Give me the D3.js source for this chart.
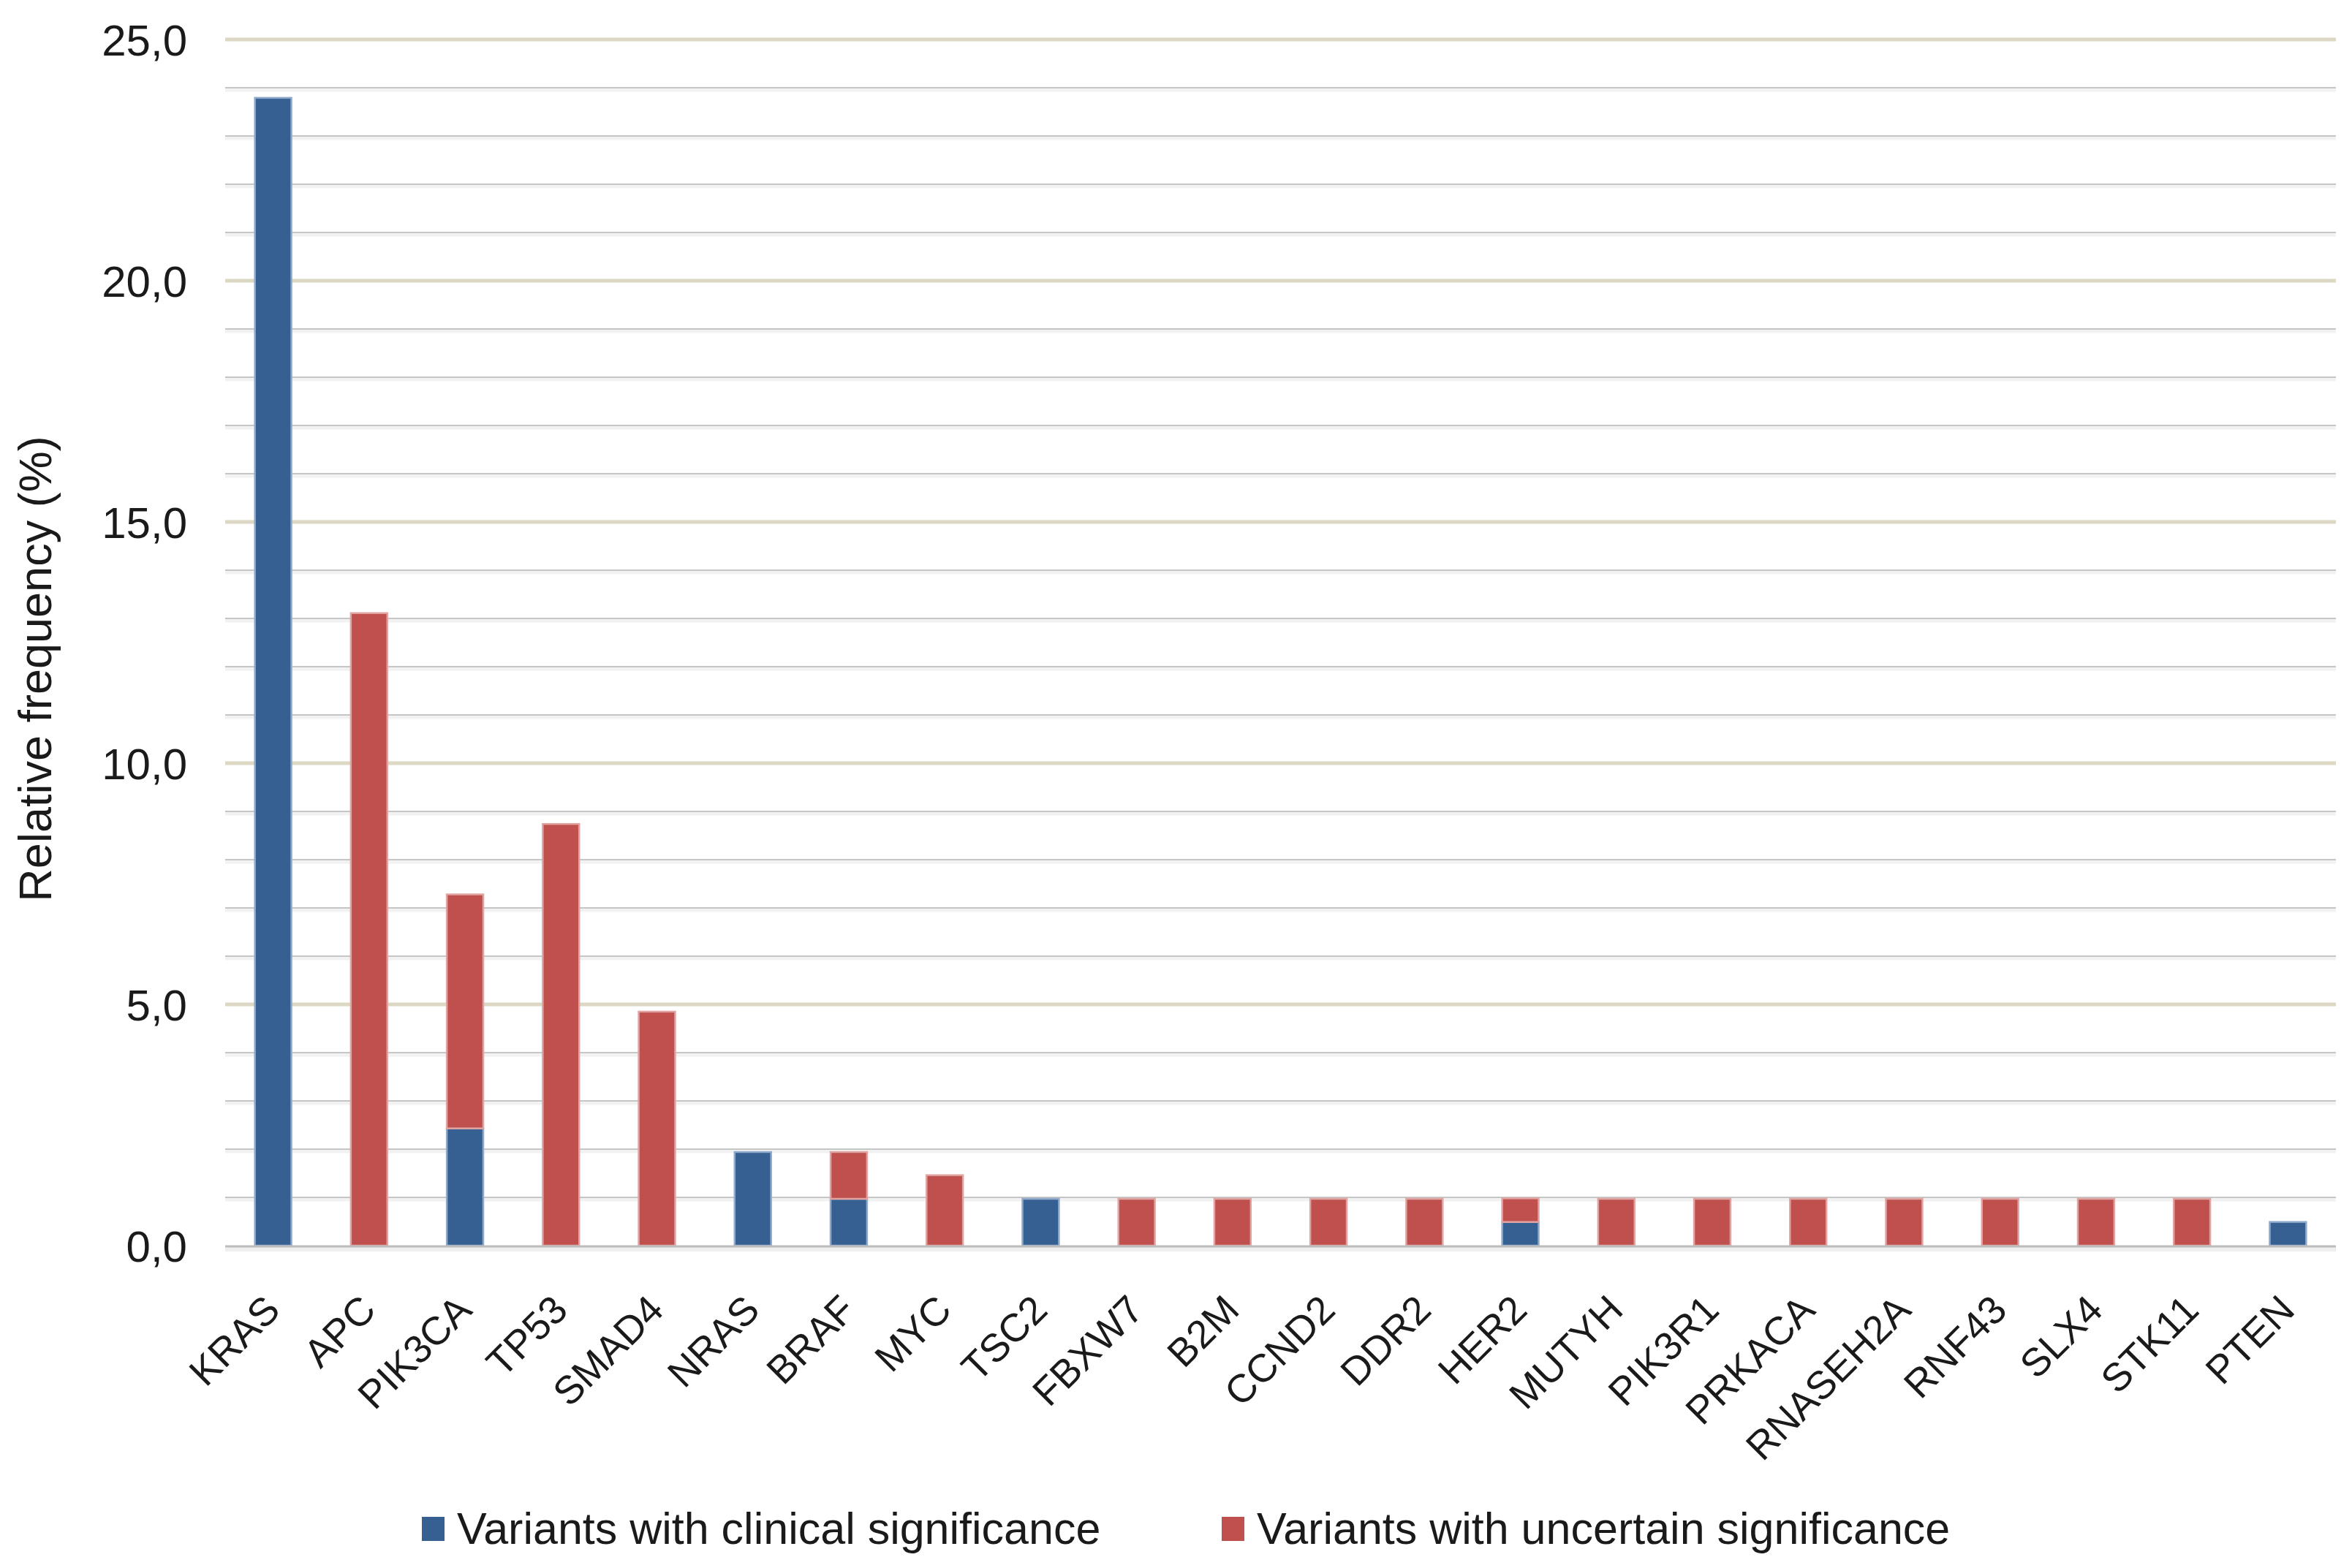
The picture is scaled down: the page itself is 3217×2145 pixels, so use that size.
<!DOCTYPE html>
<html>
<head>
<meta charset="utf-8">
<script src="https://cdn.jsdelivr.net/npm/d3@7"></script>
<style>
  body { margin: 0; background: #fff; }
  text { font-family: "Liberation Sans", Arial, sans-serif; fill: #1a1a1a; }
</style>
</head>
<body>
<svg id="chart" width="3217" height="2145"></svg>
<script>
const genes = ["KRAS", "APC", "PIK3CA", "TP53", "SMAD4", "NRAS", "BRAF", "MYC", "TSC2", "FBXW7", "B2M",
  "CCND2", "DDR2", "HER2", "MUTYH", "PIK3R1", "PRKACA", "RNASEH2A", "RNF43", "SLX4", "STK11", "PTEN"];
const clinical  = [23.79, 0, 2.43, 0, 0, 1.94, 0.97, 0, 0.97, 0, 0, 0, 0, 0.49, 0, 0, 0, 0, 0, 0, 0, 0.49];
const uncertain = [0, 13.11, 4.85, 8.74, 4.85, 0, 0.97, 1.46, 0, 0.97, 0.97, 0.97, 0.97, 0.49, 0.97, 0.97, 0.97, 0.97, 0.97, 0.97, 0.97, 0];
const yTicks = [0, 5, 10, 15, 20, 25];
const seriesNames = ["Variants with clinical significance", "Variants with uncertain significance"];

const colors = { clinical: "#366092", uncertain: "#C0504D" };
const edges = { clinical: "#8ea9c9", uncertain: "#e0a3a1" };

const svg = d3.select("#chart");
const plotLeft = 308, plotRight = 3195, plotTop = 54, plotBottom = 1704;

const x = d3.scaleBand().domain(genes).range([plotLeft, plotRight]).paddingInner(0.62).paddingOuter(0.31);
const y = d3.scaleLinear().domain([0, 25]).range([plotBottom, plotTop]);

// minor gridlines (every 1 unit)
const minor = d3.range(1, 25).filter(v => v % 5 !== 0);
svg.append("g").selectAll("line").data(minor).enter().append("line")
  .attr("x1", plotLeft).attr("x2", plotRight)
  .attr("y1", d => y(d) + 3).attr("y2", d => y(d) + 3)
  .attr("stroke", "#f2f2f2").attr("stroke-width", 5);
svg.append("g").selectAll("line").data(minor).enter().append("line")
  .attr("x1", plotLeft).attr("x2", plotRight)
  .attr("y1", d => y(d)).attr("y2", d => y(d))
  .attr("stroke", "#c6c6c6").attr("stroke-width", 1.8);

// major gridlines
svg.append("g").selectAll("line").data(yTicks.filter(d => d > 0)).enter().append("line")
  .attr("x1", plotLeft).attr("x2", plotRight)
  .attr("y1", d => y(d)).attr("y2", d => y(d))
  .attr("stroke", "#dcd8c4").attr("stroke-width", 5);

// bars
const rows = genes.map((g, i) => ({ gene: g, clinical: clinical[i], uncertain: uncertain[i] }));
const layers = d3.stack().keys(["clinical", "uncertain"])(rows);

svg.append("g").selectAll("g").data(layers).enter().append("g")
  .attr("fill", d => colors[d.key])
  .attr("stroke", d => edges[d.key])
  .attr("stroke-width", 2.5)
  .selectAll("rect").data(d => d.filter(p => p[1] - p[0] > 0)).enter().append("rect")
  .attr("x", d => x(d.data.gene))
  .attr("y", d => y(d[1]))
  .attr("width", x.bandwidth())
  .attr("height", d => y(d[0]) - y(d[1]));

// zero axis line
svg.append("line").attr("x1", plotLeft).attr("x2", plotRight)
  .attr("y1", plotBottom + 5).attr("y2", plotBottom + 5)
  .attr("stroke", "#efefef").attr("stroke-width", 6);
svg.append("line").attr("x1", plotLeft).attr("x2", plotRight)
  .attr("y1", plotBottom + 1).attr("y2", plotBottom + 1)
  .attr("stroke", "#bdbdbd").attr("stroke-width", 3);

// y axis labels
const yAxis = svg.append("g")
  .attr("transform", `translate(${plotLeft - 52},0)`)
  .call(d3.axisLeft(y).tickValues(yTicks).tickSize(0).tickPadding(0)
    .tickFormat(d => d3.format(".1f")(d).replace(".", ",")));
yAxis.select(".domain").remove();
yAxis.selectAll("text")
  .style("font-size", "60px")
  .attr("fill", "#1a1a1a")
  .attr("dy", "0.35em");

// x axis labels (rotated)
const xAxis = svg.append("g")
  .attr("transform", `translate(0,${plotBottom})`)
  .call(d3.axisBottom(x).tickSize(0));
xAxis.select(".domain").remove();
xAxis.selectAll("text")
  .style("font-size", "54px")
  .attr("fill", "#1a1a1a")
  .attr("x", 0).attr("y", 0).attr("dy", 0)
  .attr("text-anchor", "end")
  .attr("transform", "translate(12,91) rotate(-45)");

// y axis title
svg.append("text")
  .attr("transform", `translate(70,${(plotTop + plotBottom) / 2 + 36}) rotate(-90)`)
  .attr("text-anchor", "middle")
  .style("font-size", "63px")
  .text("Relative frequency (%)");

// legend
const legendItems = [
  { name: seriesNames[0], key: "clinical", x: 577 },
  { name: seriesNames[1], key: "uncertain", x: 1671 }
];
const legend = svg.append("g");
legendItems.forEach(item => {
  legend.append("rect")
    .attr("x", item.x).attr("y", 2075)
    .attr("width", 31).attr("height", 33)
    .attr("fill", colors[item.key]);
  legend.append("text")
    .attr("x", item.x + 48).attr("y", 2112)
    .style("font-size", "61px")
    .text(item.name);
});
</script>
</body>
</html>
